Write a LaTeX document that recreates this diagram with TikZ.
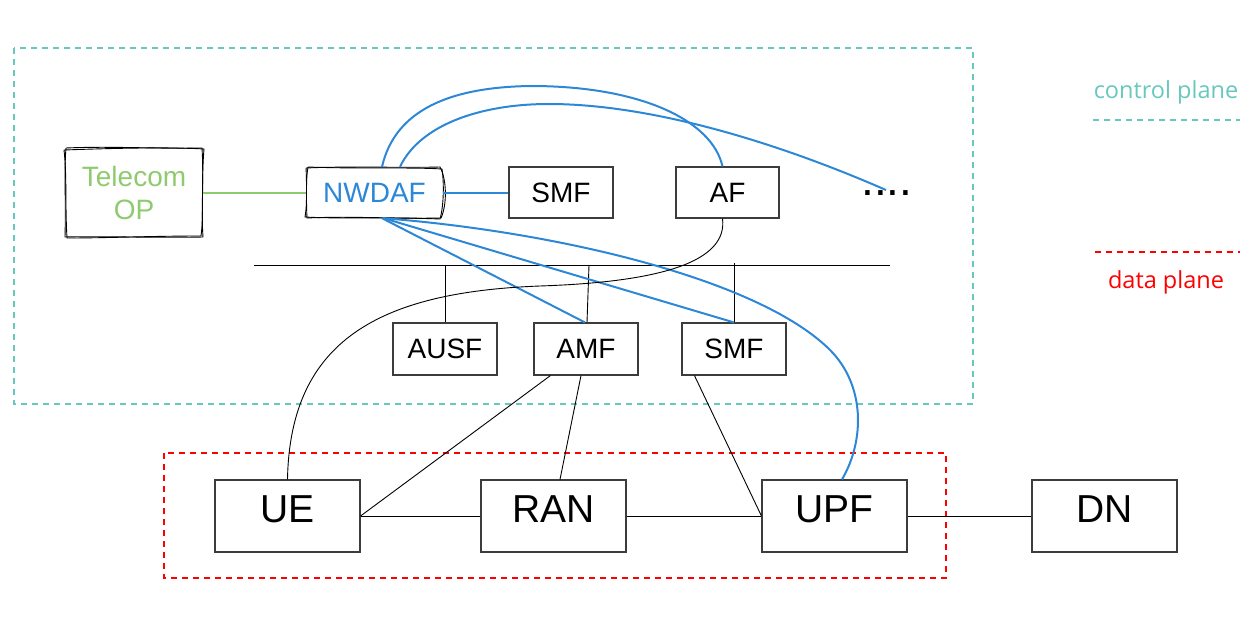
\documentclass[tikz,border=0pt]{standalone}
\usepackage{fontspec}
\setmainfont{Liberation Sans}
\newfontfamily\legendfont{Open Sans}
\usetikzlibrary{calc}
\definecolor{cpteal}{RGB}{103,200,190}
\definecolor{dpred}{RGB}{255,0,0}
\definecolor{nwblue}{RGB}{45,135,215}
\definecolor{opgreen}{RGB}{143,203,110}
\definecolor{boxline}{RGB}{60,60,60}
\tikzset{
  nf/.style={draw=boxline, line width=1.1pt, inner sep=0pt, minimum width=104, minimum height=52, font=\fontsize{28}{30}\selectfont},
  bignf/.style={draw=boxline, line width=1.1pt, inner sep=0pt, minimum width=145, minimum height=72, font=\fontsize{39}{42}\selectfont},
  bigtxt/.style={inner sep=0pt, font=\fontsize{39}{42}\selectfont},
  sketch/.style={draw=black, line width=0.9pt},
  blueline/.style={draw=nwblue, line width=2pt},
  conn/.style={draw=black, line width=0.9pt},
  planebox/.style={line width=1.8pt, dash pattern=on 6pt off 5pt},
  legend/.style={font=\legendfont\fontsize{23.5}{26}\selectfont, inner sep=0pt, anchor=base}
}
\begin{document}
\begin{tikzpicture}[x=1pt,y=-1pt]
\useasboundingbox (0,0) rectangle (1252,623);
% plane boxes
\draw[planebox, cpteal] (14,48) rectangle (973,404);
\draw[planebox, dpred] (164,453) rectangle (946,578);
% legend
\node[legend, text=cpteal] (cptxt) at (1166,99) {control plane};
\coordinate (cpa) at (1093,120);
\coordinate (cpb) at (1240,120);
\draw[planebox, cpteal] (cpa) -- (cpb);
\coordinate (dpa) at (1095,252);
\coordinate (dpb) at (1240,252);
\draw[planebox, dpred] (dpa) -- (dpb);
\node[legend, text=dpred] (dptxt) at (1166,288) {data plane};
% nodes
\node[inner sep=0pt, minimum width=138, minimum height=89, align=center, text=opgreen, font=\fontsize{28}{33}\selectfont] (tel) at (134,192.5) {Telecom\\OP};
\node[inner sep=0pt, minimum width=137, minimum height=51, text=nwblue, font=\fontsize{28}{30}\selectfont] (nwdaf) at (374.5,192.5) {NWDAF};
\node[nf, minimum height=51] (smf1) at (561,192.5) {SMF};
\node[nf, minimum height=51, minimum width=103] (af) at (727.5,192.5) {AF};
\node[inner sep=0pt, anchor=base west, font=\fontsize{46}{46}\selectfont] (dots) at (861,195.5) {....};
\node[nf] (ausf) at (445,349) {AUSF};
\node[nf] (amf) at (586,349) {AMF};
\node[nf] (smf2) at (734,349) {SMF};
\node[bignf] (ue) at (287.5,516) {};
\node[bignf] (ran) at (553.5,516) {};
\node[bignf] (upf) at (834.5,516) {};
\node[bignf] (dn) at (1104.5,516) {};
\node[bigtxt] (uetxt) at ($(ue.center)+(0,-7)$) {UE};
\node[bigtxt] (rantxt) at ($(ran.center)+(0,-7)$) {RAN};
\node[bigtxt] (upftxt) at ($(upf.center)+(0,-7)$) {UPF};
\node[bigtxt] (dntxt) at ($(dn.center)+(0,-7)$) {DN};
% sketchy outlines
\draw[sketch] (66,148) .. controls (110,146) and (160,149) .. (202,148) .. controls (204,180) and (201,210) .. (203,237) .. controls (160,238) and (100,236) .. (65,237) .. controls (66,200) and (64,170) .. (66,148);
\draw[sketch] (64,150) .. controls (120,148) and (170,147) .. (204,149) .. controls (201,185) and (204,215) .. (201,236) .. controls (150,236) and (110,238) .. (67,238) .. controls (65,205) and (67,175) .. (64,150);
\draw[sketch] (306,168) .. controls (350,166) and (400,168) .. (440,167) .. controls (447,180) and (447,205) .. (441,218) .. controls (400,219) and (350,216) .. (307,218) .. controls (306,200) and (307,185) .. (306,168);
\draw[sketch] (308,167) .. controls (360,169) and (410,167) .. (442,169) .. controls (444,182) and (444,205) .. (440,219) .. controls (390,217) and (340,219) .. (305,217) .. controls (308,200) and (305,185) .. (308,167);
% bus
\coordinate (busL) at (254,265);
\coordinate (busR) at (890,265);
\draw[conn] (busL) -- (busR);
\draw[conn] (ausf.north) -- (ausf.north |- busL);
\draw[conn] ($(amf.north)+(1,0)$) -- (589,265);
\draw[conn] (smf2.north) -- ($(smf2.north |- busL)+(0,-2)$);
% telecom link
\draw[draw=opgreen, line width=2pt] (tel.east) -- (nwdaf.west);
% blue links
\draw[blueline] (nwdaf.east) -- (smf1.west);
\draw[blueline] ($(nwdaf.south)+(7.5,0)$) -- ($(amf.north)+(-1,0)$);
\draw[blueline] ($(nwdaf.south)+(9,0)$) -- (smf2.north);
\draw[blueline] ($(nwdaf.north)+(7.5,0)$) .. controls (395,110) and (450,87) .. (531,86) .. controls (640,86) and (712,120) .. ($(af.north)+(-5,0)$);
\coordinate (dotsend) at (886,190);
\draw[blueline] ($(nwdaf.north)+(25.5,0)$) .. controls (420,125) and (480,104) .. (549,104) .. controls (640,104) and (760,135) .. (dotsend);
\draw[blueline] ($(nwdaf.south)+(8.5,0)$) .. controls (560,232) and (760,280) .. (830,350) .. controls (865,385) and (865,440) .. ($(upf.north)+(7.5,0)$);
% black links
\draw[conn] ($(af.south)+(-5,0)$) .. controls (728,262) and (660,282) .. (540,286) .. controls (380,292) and (290,340) .. (ue.north);
\draw[conn] ($(amf.south west)+(17,0)$) -- (ue.east);
\draw[conn] ($(amf.south)+(-5,0)$) -- ($(ran.north)+(6.5,0)$);
\draw[conn] ($(smf2.south west)+(13,0)$) -- (upf.west);
\draw[conn] (ue.east) -- (ran.west);
\draw[conn] (ran.east) -- (upf.west);
\draw[conn] (upf.east) -- (dn.west);
\end{tikzpicture}
\end{document}
